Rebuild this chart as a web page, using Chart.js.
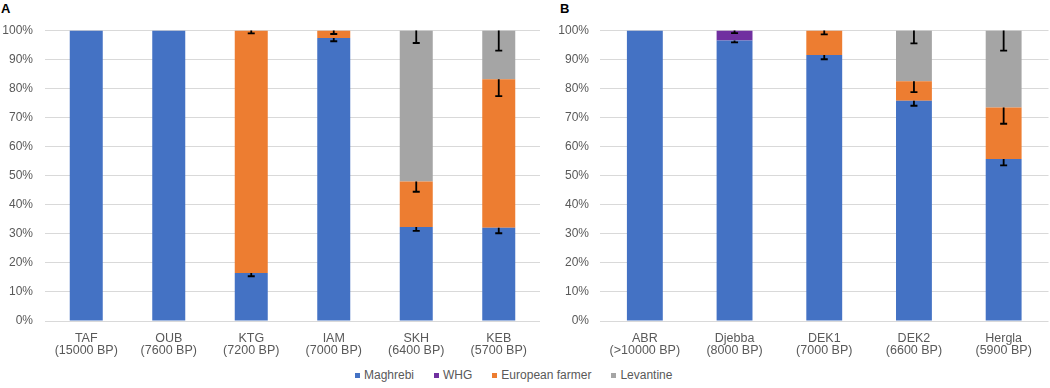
<!DOCTYPE html>
<html>
<head>
<meta charset="utf-8">
<script src="https://cdn.jsdelivr.net/npm/chart.js@4.4.1/dist/chart.umd.min.js"></script>
<style>
  body { margin: 0; background: #fff; width: 1050px; height: 388px; overflow: hidden; position: relative; font-family: "Liberation Sans", Arial, sans-serif; }
  .panel { position: absolute; top: 0; height: 365px; }
  .tag { position: absolute; top: 1px; font-size: 13px; font-weight: bold; color: #000; }
  #legend { position: absolute; left: 355px; top: 368px; display: flex; gap: 20px; font-size: 12px; color: #595959; white-space: nowrap; }
  #legend span.item { display: flex; align-items: center; }
  #legend i { display: inline-block; width: 5px; height: 5px; margin-right: 4px; }
</style>
</head>
<body>
<div class="tag" style="left:1px">A</div>
<div class="tag" style="left:560px">B</div>
<div class="panel" style="left:0;width:545px"><canvas id="chartA"></canvas></div>
<div class="panel" style="left:550px;width:500px"><canvas id="chartB"></canvas></div>
<div id="legend"></div>

<script>
// panel A
const labelsA = [["TAF", "(15000 BP)"], ["OUB", "(7600 BP)"], ["KTG", "(7200 BP)"], ["IAM", "(7000 BP)"], ["SKH", "(6400 BP)"], ["KEB", "(5700 BP)"]];
const maghrebiA = [100, 100, 16.5, 97.4, 32.4, 32.1];
const whgA = [0, 0, 0, 0, 0, 0];
const farmerA = [0, 0, 83.5, 2.6, 15.6, 51.1];
const levantineA = [0, 0, 0, 0, 52.0, 16.8];
const maghrebiErrA = [0, 0, 1.1, 1.1, 1.4, 1.9];
const whgErrA = [0, 0, 0, 0, 0, 0];
const farmerErrA = [0, 0, 1.0, 1.2, 3.5, 5.8];
const levantineErrA = [0, 0, 0, 0, 4.3, 6.9];

// panel B
const labelsB = [["ABR", "(>10000 BP)"], ["Djebba", "(8000 BP)"], ["DEK1", "(7000 BP)"], ["DEK2", "(6600 BP)"], ["Hergla", "(5900 BP)"]];
const maghrebiB = [100, 96.6, 91.6, 75.8, 55.8];
const whgB = [0, 3.4, 0, 0, 0];
const farmerB = [0, 0, 8.4, 6.7, 17.7];
const levantineB = [0, 0, 0, 17.5, 26.5];
const maghrebiErrB = [0, 0.7, 1.5, 1.7, 2.2];
const whgErrB = [0, 0.9, 0, 0, 0];
const farmerErrB = [0, 0, 1.3, 3.7, 5.6];
const levantineErrB = [0, 0, 0, 4.4, 6.9];

const seriesNames = ["Maghrebi", "WHG", "European farmer", "Levantine"];
const seriesColors = ["#4472C4", "#7030A0", "#ED7D31", "#A5A5A5"];

Chart.defaults.font.family = '"Liberation Sans", Arial, sans-serif';
Chart.defaults.font.size = 12;
Chart.defaults.color = "#595959";

// minus-only error bars, drawn from the top of each segment downwards
const errorBars = {
  id: "errorBars",
  afterDatasetsDraw(chart) {
    const ctx = chart.ctx;
    const y = chart.scales.y;
    ctx.save();
    ctx.strokeStyle = "#000";
    ctx.lineWidth = 1.8;
    chart.data.datasets.forEach((ds, i) => {
      const meta = chart.getDatasetMeta(i);
      ds.errors.forEach((err, j) => {
        if (!err) return;
        let top = 0;
        for (let k = 0; k <= i; k++) top += chart.data.datasets[k].data[j];
        const bar = meta.data[j];
        const y1 = y.getPixelForValue(top);
        const y2 = y.getPixelForValue(top - err);
        ctx.beginPath();
        ctx.moveTo(bar.x, y1);
        ctx.lineTo(bar.x, y2);
        ctx.moveTo(bar.x - 3.5, y2);
        ctx.lineTo(bar.x + 3.5, y2);
        ctx.stroke();
      });
    });
    ctx.restore();
  },
};

function makeChart(id, labels, values, errors, yWidth, tickPad, padRight) {
  const ctx = document.getElementById(id).getContext("2d");
  return new Chart(ctx, {
    type: "bar",
    data: {
      labels: labels,
      datasets: values.map((v, i) => ({
        label: seriesNames[i],
        data: v,
        errors: errors[i],
        backgroundColor: seriesColors[i],
        borderWidth: 0,
        categoryPercentage: 1,
        barPercentage: 0.4,
      })),
    },
    options: {
      responsive: true,
      maintainAspectRatio: false,
      animation: false,
      layout: { padding: { top: 30.5, right: padRight, bottom: 0, left: 0 } },
      plugins: { legend: { display: false }, tooltip: { enabled: false } },
      scales: {
        x: {
          stacked: true,
          grid: { display: false },
          border: { display: false },
          ticks: { padding: 4, font: { size: 12.5, lineHeight: 0.95 }, maxRotation: 0 },
          afterFit: (s) => { s.height = 44; },
        },
        y: {
          stacked: true,
          min: 0,
          max: 100,
          grid: { color: "#D9D9D9", drawTicks: false },
          border: { display: false },
          ticks: { stepSize: 10, padding: tickPad, callback: (v) => v + "%" },
          afterFit: (s) => { s.width = yWidth; },
        },
      },
    },
    plugins: [errorBars],
  });
}

makeChart("chartA", labelsA,
  [maghrebiA, whgA, farmerA, levantineA],
  [maghrebiErrA, whgErrA, farmerErrA, levantineErrA], 45, 12, 5);
makeChart("chartB", labelsB,
  [maghrebiB, whgB, farmerB, levantineB],
  [maghrebiErrB, whgErrB, farmerErrB, levantineErrB], 50, 11, 1.5);

const legend = document.getElementById("legend");
seriesNames.forEach((name, i) => {
  const item = document.createElement("span");
  item.className = "item";
  item.innerHTML = '<i style="background:' + seriesColors[i] + '"></i>' + name;
  legend.appendChild(item);
});
</script>
</body>
</html>
